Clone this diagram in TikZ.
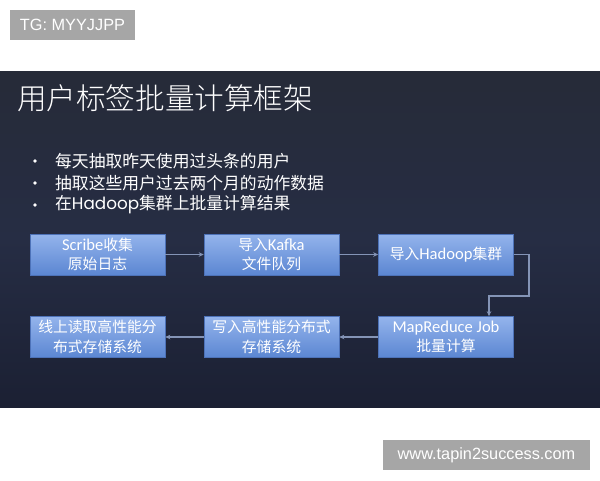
\documentclass[tikz,border=0pt]{standalone}
\usepackage{fontspec}
\setmainfont{Noto Sans CJK SC}
\newfontfamily\cjklight{Noto Sans CJK SC}[UprightFont={* Light}]
\newfontfamily\carl{Carlito}[Scale=1.12]
\newfontfamily\pop{Poppins}
\newfontfamily\lib{Liberation Sans}
\usetikzlibrary{arrows.meta}
\definecolor{wm}{HTML}{A6A6A6}
\definecolor{bgtop}{HTML}{262B38}
\definecolor{bgmid}{HTML}{262D44}
\definecolor{bgbot}{HTML}{1B2033}
\definecolor{boxtop}{HTML}{94B4EC}
\definecolor{boxbot}{HTML}{5B86D2}
\definecolor{boxedge}{HTML}{4D72B8}
\definecolor{conn}{HTML}{8494B6}
\tikzset{
  flowbox/.style={rectangle, minimum width=135pt, minimum height=41pt, inner sep=0pt,
    top color=boxtop, bottom color=boxbot, draw=boxedge, line width=0.6pt,
    text=white, align=center, font=\fontsize{14.8}{19.5}\selectfont},
  flowarrow/.style={draw=conn, line width=1.1pt, -{Stealth[length=5pt,width=4.5pt]}},
  bullettext/.style={anchor=west, inner sep=0pt, text=white, font=\fontsize{16.8}{20}\selectfont},
  bulletdot/.style={circle, fill=white, inner sep=0pt, minimum size=3.6pt},
  wmark/.style={fill=wm, text=white, inner sep=0pt, font=\lib\fontsize{16.3}{18}\selectfont}
}
\begin{document}
\begin{tikzpicture}[x=1pt,y=-1pt]
\useasboundingbox (0,0) rectangle (600,480);
\fill[white] (0,0) rectangle (600,480);
% slide background
\shade[top color=bgtop, bottom color=bgbot, middle color=bgmid] (0,71) rectangle (600,407);
% watermarks
\node[wmark, minimum width=125pt, minimum height=30pt] (tg) at (72.5,25) {TG: MYYJJPP};
\node[wmark, minimum width=207pt, minimum height=30pt] (site) at (486.5,455) {www.tapin2success.com};
% title
\node[anchor=west, inner sep=0pt, text=white, font=\cjklight\fontsize{29.6}{34}\selectfont] (title) at (17,98) {用户标签批量计算框架};
% bullets
\node[bulletdot] (b1) at (35,161) {};
\node[bulletdot] (b2) at (35,183) {};
\node[bulletdot] (b3) at (35,205) {};
\node[bullettext] (t1) at (55,161) {每天抽取昨天使用过头条的用户};
\node[bullettext] (t2) at (55,183) {抽取这些用户过去两个月的动作数据};
\node[bullettext] (t3) at (55,205) {在{\pop Hadoop}集群上批量计算结果};
% boxes
\node[flowbox] (s1) at (97.5,254.5) {{\carl Scribe}收集\\原始日志};
\node[flowbox] (s2) at (271.5,254.5) {导入{\carl Kafka}\\文件队列};
\node[flowbox] (s3) at (446,254.5) {导入{\carl Hadoop}集群};
\node[flowbox] (s6) at (446,337) {{\carl MapReduce Job}\\批量计算};
\node[flowbox] (s5) at (271.5,337) {写入高性能分布式\\存储系统};
\node[flowbox] (s4) at (97.5,337) {线上读取高性能分\\布式存储系统};
% connectors
\coordinate (k1) at (529,296);
\coordinate (k2) at (489,296);
\draw[flowarrow] (s1) -- (s2);
\draw[flowarrow] (s2) -- (s3);
\draw[flowarrow] (s3.east) -| (k1) -- (k2) -- (k2 |- s6.north);
\draw[flowarrow] (s6) -- (s5);
\draw[flowarrow] (s5) -- (s4);
\end{tikzpicture}
\end{document}
